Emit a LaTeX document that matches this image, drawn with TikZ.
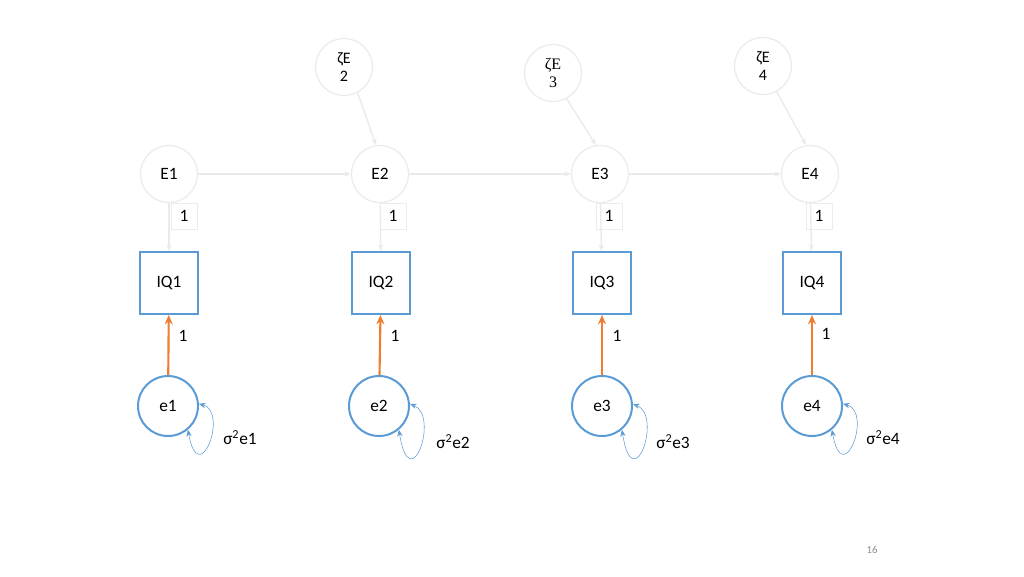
\documentclass[tikz,border=0pt]{standalone}
\usepackage{fontspec}
\setmainfont{Carlito}
\newfontfamily\zetaserif{Liberation Serif}
\usetikzlibrary{arrows.meta}

\definecolor{faint}{RGB}{236,236,236}
\definecolor{faintline}{RGB}{234,234,234}
\definecolor{obsblue}{RGB}{91,155,213}
\definecolor{resorange}{RGB}{237,125,49}
\definecolor{pagegray}{RGB}{140,140,140}

\begin{document}
\begin{tikzpicture}[
            x = 0.75pt, y = -0.75pt, % pixel grid of the slide
            font = \fontsize{13}{15}\selectfont,
            > = {Stealth[length=5pt,width=4pt]}, % arrow head style
            semithick
        ]

        \tikzstyle{latent}=[circle, draw = faint, line width = 1pt, fill = white, minimum size = 42.75pt, inner sep = 0pt]
        \tikzstyle{zeta}=[latent, font = \fontsize{12}{14}\selectfont, align = center]
        \tikzstyle{observed}=[rectangle, draw = obsblue, line width = 1.5pt, minimum width = 43.5pt, minimum height = 46.5pt]
        \tikzstyle{residual}=[circle, draw = obsblue, line width = 1.5pt, minimum size = 45pt, inner sep = 0pt]
        \tikzstyle{loadbox}=[rectangle, draw = faint, line width = 0.6pt, minimum size = 19.5pt, inner sep = 0pt]
        \tikzstyle{faintarrow}=[->, draw = faintline, line width = 1pt, > = {Stealth[length=5pt,width=4pt]}]
        \tikzstyle{resarrow}=[->, draw = resorange, line width = 1.6pt, > = {Stealth[length=7pt,width=6pt]}]
        \tikzstyle{varloop}=[<->, draw = obsblue, line width = 0.4pt, > = {Stealth[length=5pt,width=4pt]}]

        \useasboundingbox (0,0) rectangle (1024,576);

	% latent states
	\node[latent] (E1) at (169,174) {E1};
	\node[latent] (E2) at (380,174) {E2};
	\node[latent] (E3) at (600,174) {E3};
	\node[latent] (E4) at (810,174) {E4};

	% innovations
	\node[zeta] (z2) at (344,67) {ζE\\2};
	\node[zeta] (z3) at (553,73) {\zetaserif ζE\\\zetaserif 3};
	\node[zeta] (z4) at (763,66) {ζE\\4};

	% indicators
	\node[observed] (IQ1) at (169,283) {IQ1};
	\node[observed] (IQ2) at (381,283) {IQ2};
	\node[observed] (IQ3) at (602,283) {IQ3};
	\node[observed] (IQ4) at (812,283) {IQ4};

	% measurement errors
	\node[residual] (e1) at (168,406) {e1};
	\node[residual] (e2) at (379,406) {e2};
	\node[residual] (e3) at (602,406) {e3};
	\node[residual] (e4) at (812,406) {e4};

	% loadings
	\node[loadbox] (l1) at (184,216) {1};
	\node[loadbox] (l2) at (393,216) {1};
	\node[loadbox] (l3) at (609,216) {1};
	\node[loadbox] (l4) at (819,216) {1};

	\node (r1) at (183,336) {1};
	\node (r2) at (395,336) {1};
	\node (r3) at (617,336) {1};
	\node (r4) at (826,334) {1};

	% variances
	\node (v1) at (240,438) {σ\textsuperscript{2}e1};
	\node (v2) at (453,442) {σ\textsuperscript{2}e2};
	\node (v3) at (673,442) {σ\textsuperscript{2}e3};
	\node (v4) at (883,438) {σ\textsuperscript{2}e4};

	\node[font = \fontsize{8}{10}\selectfont, text = pagegray] (page) at (872,550) {16};

	% autoregression
	\draw[faintarrow] (E1) -- (E2);
	\draw[faintarrow] (E2) -- (E3);
	\draw[faintarrow] (E3) -- (E4);

	\draw[faintarrow] (z2.-62) -- (E2.98);
	\draw[faintarrow] (z3.-62) -- (E3.98);
	\draw[faintarrow] (z4.-62) -- (E4.98);

	\draw[faintarrow] (E1) -- (IQ1);
	\draw[faintarrow] (E2) -- (IQ2);
	\draw[faintarrow] (E3) -- (IQ3);
	\draw[faintarrow] (E4) -- (IQ4);

	\draw[resarrow] (e1) -- (IQ1);
	\draw[resarrow] (e2) -- (IQ2);
	\draw[resarrow] (e3) -- (IQ3);
	\draw[resarrow] (e4) -- (IQ4);

	\draw[varloop] (e1.4) .. controls +(30,8) and +(11,61) .. (e1.-50);
	\draw[varloop] (e2.4) .. controls +(30,12) and +(11,70) .. (e2.-50);
	\draw[varloop] (e3.4) .. controls +(30,12) and +(11,70) .. (e3.-50);
	\draw[varloop] (e4.4) .. controls +(30,8) and +(11,61) .. (e4.-50);

    \end{tikzpicture}
\end{document}
